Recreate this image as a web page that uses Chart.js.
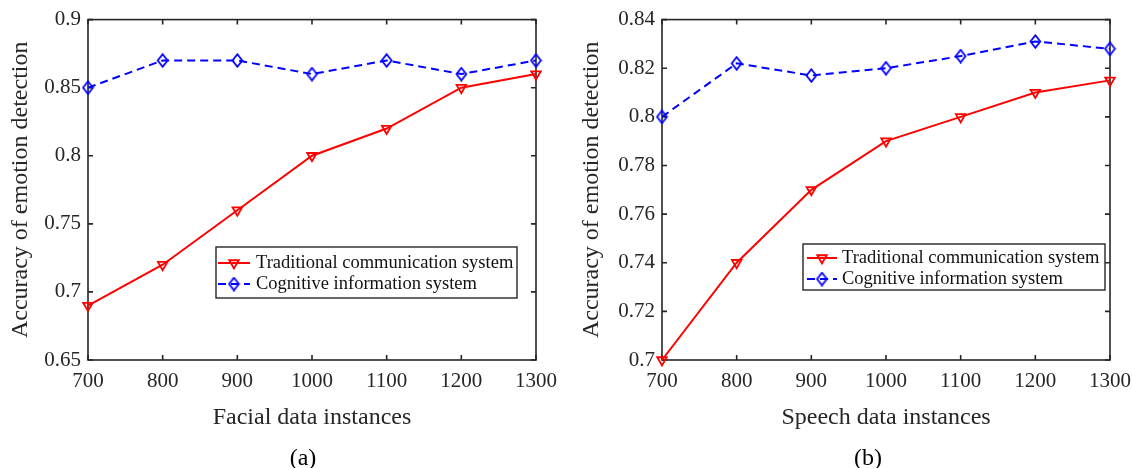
<!DOCTYPE html>
<html>
<head>
<meta charset="utf-8">
<script src="https://cdn.jsdelivr.net/npm/chart.js@4.4.0/dist/chart.umd.min.js"></script>
<style>
  body { margin: 0; background: #fff; }
  #wrap { position: relative; width: 1132px; height: 468px; overflow: hidden; }
  canvas { position: absolute; top: 0; }
  .sub { position: absolute; top: 445px; font: 24px "Liberation Serif", serif; line-height: 24px; color: #000; transform: translateX(-50%); }
</style>
</head>
<body>
<div id="wrap">
  <canvas id="facialChart" width="566" height="468" style="left:0"></canvas>
  <canvas id="speechChart" width="580" height="468" style="left:560px"></canvas>
  <div class="sub" style="left:303px">(a)</div>
  <div class="sub" style="left:868px">(b)</div>
</div>
<script>
// data
const instances = [700, 800, 900, 1000, 1100, 1200, 1300];
const seriesNames = ["Traditional communication system", "Cognitive information system"];

const facialTraditional = [0.69, 0.72, 0.76, 0.80, 0.82, 0.85, 0.86];
const facialCognitive = [0.85, 0.87, 0.87, 0.86, 0.87, 0.86, 0.87];
const facialYTicks = [0.65, 0.7, 0.75, 0.8, 0.85, 0.9];

const speechTraditional = [0.70, 0.74, 0.77, 0.79, 0.80, 0.81, 0.815];
const speechCognitive = [0.80, 0.822, 0.817, 0.820, 0.825, 0.831, 0.828];
const speechYTicks = [0.7, 0.72, 0.74, 0.76, 0.78, 0.8, 0.82, 0.84];

const AXIS_COLOR = "#262626";
const FONT = "Liberation Serif";

function toPoints(ys) {
  return instances.map((x, i) => ({ x: x, y: ys[i] }));
}

// MATLAB style diamond, a bit taller than wide
function makeDiamond() {
  const c = document.createElement("canvas");
  c.width = 13;
  c.height = 15;
  const g = c.getContext("2d");
  g.strokeStyle = "#0000FF";
  g.lineWidth = 1.8;
  g.beginPath();
  g.moveTo(6.5, 1.2);
  g.lineTo(11.4, 7.5);
  g.lineTo(6.5, 13.8);
  g.lineTo(1.6, 7.5);
  g.closePath();
  g.stroke();
  return c;
}
const diamond = makeDiamond();

// box round the plot with inward ticks on all four sides
const matlabBox = {
  id: "matlabBox",
  beforeDatasetsDraw(chart) {
    const { ctx, chartArea: a, scales } = chart;
    ctx.save();
    ctx.strokeStyle = AXIS_COLOR;
    ctx.lineWidth = 1.6;
    ctx.strokeRect(a.left, a.top, a.right - a.left, a.bottom - a.top);
    ctx.beginPath();
    scales.x.ticks.forEach(t => {
      const px = scales.x.getPixelForValue(t.value);
      ctx.moveTo(px, a.bottom);
      ctx.lineTo(px, a.bottom - 5);
      ctx.moveTo(px, a.top);
      ctx.lineTo(px, a.top + 5);
    });
    scales.y.ticks.forEach(t => {
      const py = scales.y.getPixelForValue(t.value);
      ctx.moveTo(a.left, py);
      ctx.lineTo(a.left + 5, py);
      ctx.moveTo(a.right, py);
      ctx.lineTo(a.right - 5, py);
    });
    ctx.stroke();
    ctx.restore();
  }
};

function drawMarker(ctx, ds, x, y) {
  if (ds.pointStyle instanceof HTMLCanvasElement) {
    ctx.drawImage(ds.pointStyle, x - ds.pointStyle.width / 2, y - ds.pointStyle.height / 2);
    return;
  }
  const r = ds.pointRadius;
  ctx.strokeStyle = ds.borderColor;
  ctx.lineWidth = ds.pointBorderWidth;
  ctx.beginPath();
  for (let k = 0; k < 3; k++) {
    const rad = Math.PI + k * 2 * Math.PI / 3;
    const px = x + Math.sin(rad) * r;
    const py = y - Math.cos(rad) * r;
    if (k === 0) ctx.moveTo(px, py); else ctx.lineTo(px, py);
  }
  ctx.closePath();
  ctx.stroke();
}

const boxLegend = {
  id: "boxLegend",
  afterDatasetsDraw(chart, args, opts) {
    const ctx = chart.ctx;
    ctx.save();
    ctx.fillStyle = "#fff";
    ctx.fillRect(opts.x, opts.y, opts.w, opts.h);
    ctx.strokeStyle = AXIS_COLOR;
    ctx.lineWidth = 1.4;
    ctx.strokeRect(opts.x, opts.y, opts.w, opts.h);
    chart.data.datasets.forEach((ds, i) => {
      const cy = opts.rowY[i];
      ctx.strokeStyle = ds.borderColor;
      ctx.lineWidth = ds.borderWidth;
      ctx.setLineDash(ds.borderDash || []);
      ctx.beginPath();
      ctx.moveTo(opts.lineX0, cy);
      ctx.lineTo(opts.lineX1, cy);
      ctx.stroke();
      ctx.setLineDash([]);
      drawMarker(ctx, ds, (opts.lineX0 + opts.lineX1) / 2, cy);
      ctx.fillStyle = "#111";
      ctx.font = "18.5px '" + FONT + "'";
      ctx.textBaseline = "middle";
      ctx.textAlign = "left";
      ctx.fillText(ds.label, opts.textX, cy);
    });
    ctx.restore();
  }
};

function makeChart(id, trad, cog, yTicks, xTitle, L) {
  const ctx = document.getElementById(id);
  return new Chart(ctx, {
    type: "line",
    data: {
      datasets: [{
        label: seriesNames[0],
        data: toPoints(trad),
        borderColor: "#FF0000",
        borderWidth: 2,
        pointStyle: "triangle",
        pointRotation: 180,
        pointRadius: 5.5,
        pointBorderWidth: 1.8,
        pointBorderColor: "#FF0000",
        pointBackgroundColor: "rgba(0,0,0,0)",
        tension: 0,
        clip: false
      }, {
        label: seriesNames[1],
        data: toPoints(cog),
        borderColor: "#0000FF",
        borderWidth: 2,
        borderDash: [8, 5],
        pointStyle: diamond,
        pointRadius: 6,
        pointBackgroundColor: "rgba(0,0,0,0)",
        tension: 0,
        clip: false
      }]
    },
    options: {
      responsive: false,
      animation: false,
      events: [],
      layout: { padding: { left: 0, right: L.padRight, top: L.padTop, bottom: 0 } },
      scales: {
        x: {
          type: "linear",
          min: instances[0],
          max: instances[instances.length - 1],
          afterBuildTicks: s => { s.ticks = instances.map(v => ({ value: v })); },
          afterFit: s => { s.height = 108; },
          grid: { display: false, drawTicks: false },
          border: { display: false },
          ticks: {
            padding: 9,
            color: AXIS_COLOR,
            font: { family: FONT, size: 21 },
            maxRotation: 0,
            autoSkip: false,
            callback: v => String(v)
          },
          title: {
            display: true,
            text: xTitle,
            color: AXIS_COLOR,
            font: { family: FONT, size: 24 },
            padding: { top: 0, bottom: 35.6 }
          }
        },
        y: {
          min: yTicks[0],
          max: yTicks[yTicks.length - 1],
          afterBuildTicks: s => { s.ticks = yTicks.map(v => ({ value: v })); },
          afterFit: s => { s.width = L.yWidth; },
          grid: { display: false, drawTicks: false },
          border: { display: false },
          ticks: {
            padding: 7,
            color: AXIS_COLOR,
            font: { family: FONT, size: 21 },
            autoSkip: false,
            callback: v => String(Number(v.toFixed(3)))
          },
          title: {
            display: true,
            text: "Accuracy of emotion detection",
            color: AXIS_COLOR,
            font: { family: FONT, size: 24 },
            padding: { top: L.titlePad, bottom: 0 }
          }
        }
      },
      plugins: {
        legend: { display: false },
        tooltip: { enabled: false },
        boxLegend: L.legend
      }
    },
    plugins: [matlabBox, boxLegend]
  });
}

document.addEventListener("DOMContentLoaded", () => {
  makeChart("facialChart", facialTraditional, facialCognitive, facialYTicks, "Facial data instances", {
    yWidth: 88, padRight: 28, padTop: 17, titlePad: 6,
    legend: { x: 216, y: 247, w: 301, h: 51, lineX0: 218, lineX1: 250, textX: 256, rowY: [263, 284] }
  });
  makeChart("speechChart", speechTraditional, speechCognitive, speechYTicks, "Speech data instances", {
    yWidth: 102, padRight: 28, padTop: 19, titlePad: 17.6,
    legend: { x: 243, y: 244, w: 302, h: 46, lineX0: 247, lineX1: 277, textX: 282, rowY: [258, 279] }
  });
});
</script>
</body>
</html>
